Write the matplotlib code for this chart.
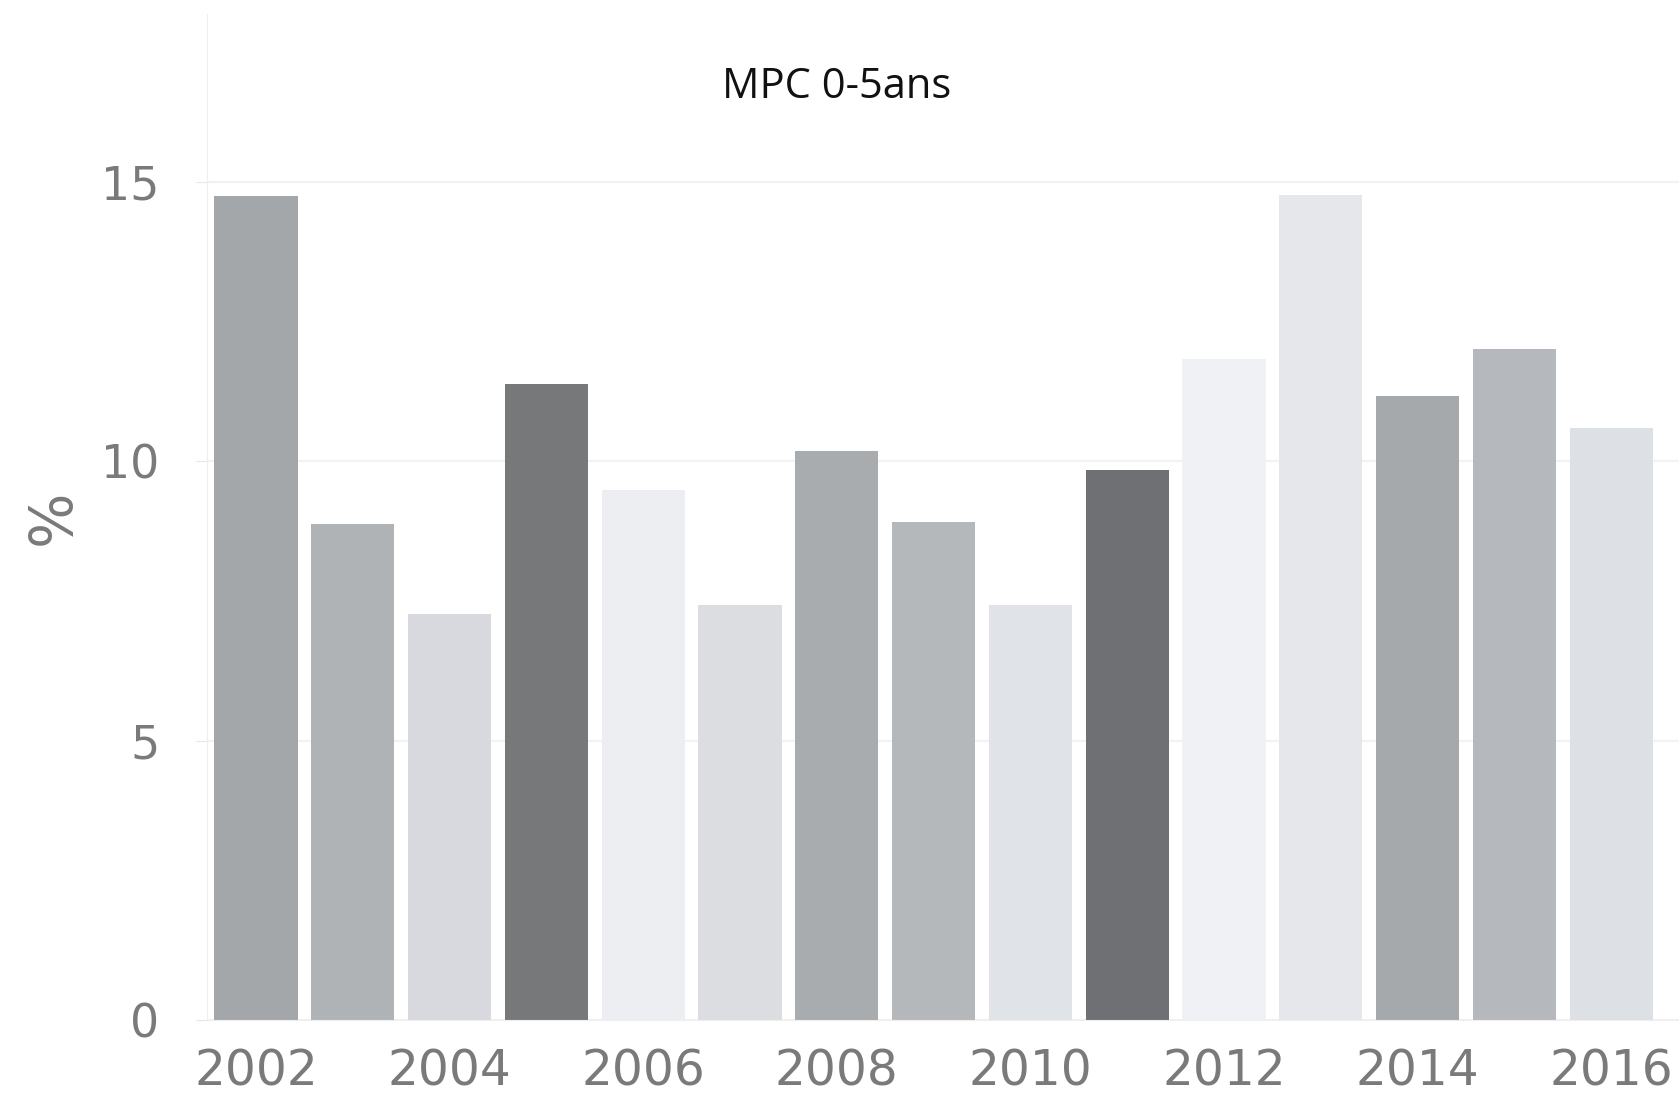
import numpy as np
import matplotlib
matplotlib.use("Agg")
import matplotlib.pyplot as plt

# data
years = [2002, 2003, 2004, 2005, 2006, 2007, 2008, 2009, 2010, 2011, 2012, 2013, 2014, 2015, 2016]
values = [14.75, 8.87, 7.26, 11.38, 9.48, 7.43, 10.19, 8.91, 7.43, 9.85, 11.84, 14.77, 11.17, 12.01, 10.59]
colors = ['#a4a7aa', '#b0b3b6', '#d8d9de', '#76787a', '#eceef2', '#dcdde0', '#a9acaf', '#b5b8bb',
          '#e0e3e8', '#6e7073', '#eff1f5', '#e5e7eb', '#a6a9ac', '#b5b8bc', '#dde0e5']
xticks = [2002, 2004, 2006, 2008, 2010, 2012, 2014, 2016]
yticks = [0, 5, 10, 15]

fig = plt.figure(figsize=(16.79, 10.96), dpi=100)
ax = fig.add_axes([0.123, 0.0693, 0.877, 0.9176])

ax.bar(years, values, width=0.86, color=colors, zorder=2)

ax.set_xlim(2001.49, 2016.7)
ax.set_ylim(0, 18)
ax.set_xticks(xticks)
ax.set_yticks(yticks)
ax.set_xticklabels([str(y) for y in xticks], fontsize=35, color='#7a7a7a')
ax.set_yticklabels([str(v) for v in yticks], fontsize=33, color='#7a7a7a')
ax.tick_params(axis='x', length=0, pad=20)
ax.tick_params(axis='y', length=8, color='#e6e6e6', pad=26)
ax.grid(axis='y', color='#f2f2f2', linewidth=1.5, zorder=0)

for s in ['top', 'right']:
    ax.spines[s].set_visible(False)
ax.spines['left'].set_color('#eeeeee')
ax.spines['bottom'].set_color('#eeeeee')

ax.set_ylabel('%', fontsize=42, color='#7a7a7a', labelpad=14)
ax.text(2008.0, 16.7, 'MPC 0-5ans', fontsize=30, ha='center', va='center',
        family=['Open Sans', 'DejaVu Sans'], color='#111111')

fig.savefig('out.png', dpi=100)
